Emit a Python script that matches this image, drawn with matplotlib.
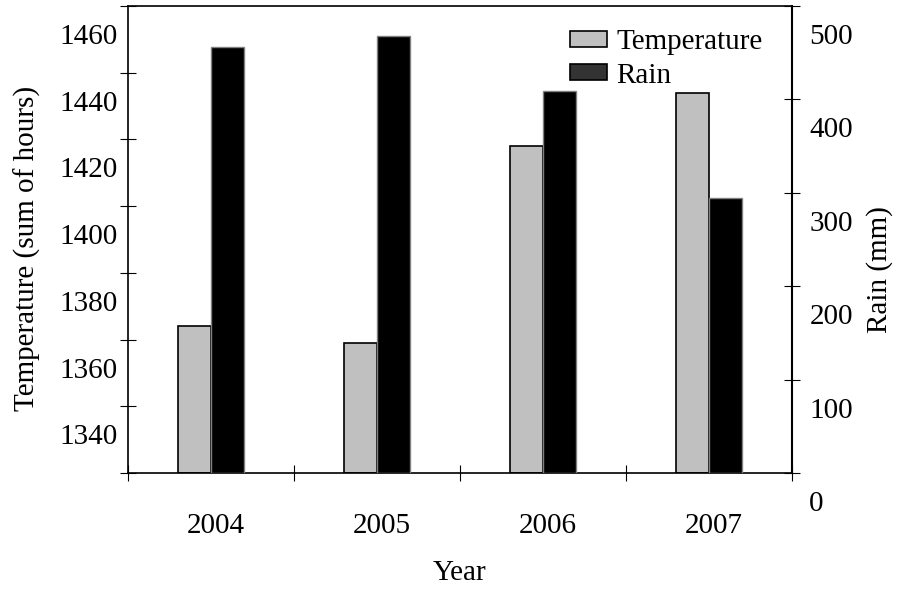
import numpy as np
import matplotlib
matplotlib.use('Agg')
from matplotlib import pyplot as plt
from matplotlib.patches import Patch
from matplotlib.transforms import ScaledTranslation

years = ['2004', '2005', '2006', '2007']
temperature = [1364, 1359, 1418, 1434]
rain = [456, 468, 409, 294]

temp_ticks = [1320, 1340, 1360, 1380, 1400, 1420, 1440, 1460]
temp_labels = ['', '1340', '1360', '1380', '1400', '1420', '1440', '1460']
rain_ticks = [0, 100, 200, 300, 400, 500]

plt.rcParams['font.family'] = ['Liberation Serif', 'DejaVu Serif']
fsize = 21

fig = plt.figure(figsize=(9.01, 5.89), dpi=100)
ax = fig.add_axes([0.142, 0.197, 0.737, 0.793])
ax2 = ax.twinx()

x = np.arange(len(years))
w = 0.2
ax.bar(x - w / 2, np.array(temperature) - 1320, bottom=1320, width=w,
       color='#c0c0c0', edgecolor='black', linewidth=1.2, zorder=2)
ax2.bar(x + w / 2, rain, width=w, color='black', edgecolor='#808080',
        linewidth=1.0, zorder=2)

ax.set_xlim(-0.5, len(years) - 0.5)
ax.set_ylim(1320, 1460)
ax2.set_ylim(0, 500)

# x axis: labels in the middle of each group, marks between groups
ax.set_xticks(x + 0.03, years)
ax.set_xticks(np.arange(len(years) + 1) - 0.5, minor=True)
ax.tick_params(axis='x', which='major', length=0, pad=29, labelsize=fsize)
ax.tick_params(axis='x', which='minor', direction='inout', length=11, width=0.8)

ax.set_yticks(temp_ticks, temp_labels)
ax.tick_params(axis='y', direction='inout', length=11, width=0.8, pad=2,
               labelsize=fsize)
ax2.set_yticks(rain_ticks, [str(t) for t in rain_ticks])
ax2.tick_params(axis='y', direction='inout', length=11, width=0.8, pad=7,
                labelsize=fsize)

# the original program drew the value labels a bit below their marks
shift = ScaledTranslation(0, -0.28, fig.dpi_scale_trans)
for lab in ax.get_yticklabels() + ax2.get_yticklabels():
    lab.set_transform(lab.get_transform() + shift)

for sp in ax.spines.values():
    sp.set_linewidth(1.2)
for sp in ax2.spines.values():
    sp.set_visible(False)
ax2.spines['right'].set_visible(True)
ax2.spines['right'].set_linewidth(1.5)

ax.set_xlabel('Year', fontsize=fsize, va='center')
ax.xaxis.set_label_coords(0.5, -0.214)
ax.set_ylabel('Temperature (sum of hours)', fontsize=fsize,
              va='center', ha='center')
ax.yaxis.set_label_coords(-0.151, 0.48)
ax2.set_ylabel('Rain (mm)', fontsize=fsize, va='center', ha='center')
ax2.yaxis.set_label_coords(1.132, 0.435)

handles = [Patch(facecolor='#c0c0c0', edgecolor='black', linewidth=1.2),
           Patch(facecolor='#333333', edgecolor='black', linewidth=1.2)]
ax2.legend(handles, ['Temperature', 'Rain'], loc='upper left',
           bbox_to_anchor=(0.665, 0.95), frameon=False, fontsize=fsize,
           handlelength=1.3, handleheight=0.45, handletextpad=0.3,
           labelspacing=0.25, borderpad=0, borderaxespad=0)

fig.savefig('out.png', dpi=100)
